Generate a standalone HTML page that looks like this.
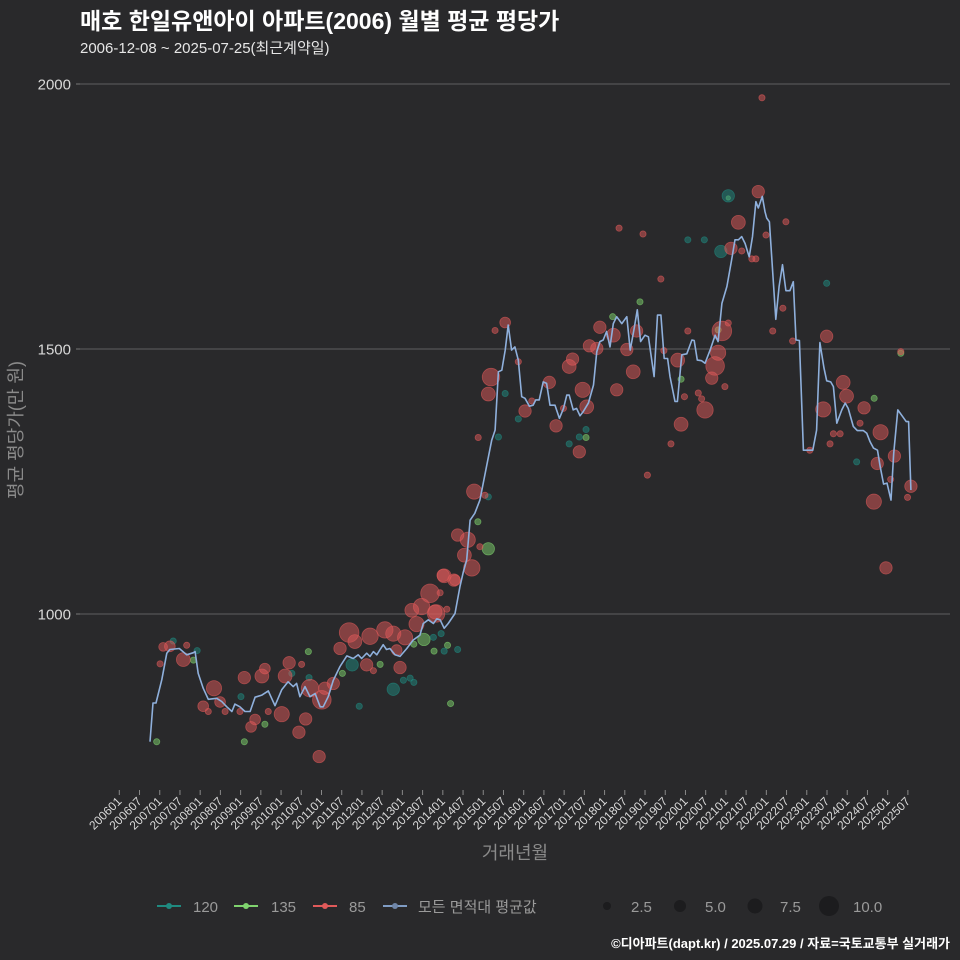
<!DOCTYPE html>
<html><head><meta charset="utf-8">
<style>
html,body{margin:0;padding:0;background:#29292b;}
svg{display:block;font-family:"Liberation Sans","Noto Sans CJK KR",sans-serif;}
</style></head>
<body>
<svg id="chart" width="960" height="960" viewBox="0 0 960 960" xmlns="http://www.w3.org/2000/svg">
<rect x="0" y="0" width="960" height="960" fill="#29292b"/>
<text x="80" y="29" font-size="23" font-weight="bold" fill="#ffffff">매호 한일유앤아이 아파트(2006) 월별 평균 평당가</text>
<text x="80" y="53" font-size="15" fill="#e6e6e6">2006-12-08 ~ 2025-07-25(최근계약일)</text>
<g id="grid"></g>
<g id="yaxis"></g>
<g id="xaxis"></g>
<g id="bubbles"></g>
<g id="line"></g>
<text transform="translate(22,430) rotate(-90)" text-anchor="middle" font-size="18" fill="#8a8a8a">평균 평당가(만 원)</text>
<text x="515" y="859" text-anchor="middle" font-size="18" fill="#8a8a8a">거래년월</text>
<g font-size="15" fill="#9a9a9a">
  <g><line x1="157" y1="906" x2="181" y2="906" stroke="#1f8a80" stroke-width="2"/><circle cx="169" cy="906" r="3" fill="#1f8a80"/><text x="193" y="912">120</text></g>
  <g><line x1="234" y1="906" x2="258" y2="906" stroke="#7fd36e" stroke-width="2"/><circle cx="246" cy="906" r="3" fill="#7fd36e"/><text x="271" y="912">135</text></g>
  <g><line x1="313" y1="906" x2="337" y2="906" stroke="#e05a5a" stroke-width="2"/><circle cx="325" cy="906" r="3" fill="#e05a5a"/><text x="349" y="912">85</text></g>
  <g><line x1="383" y1="906" x2="407" y2="906" stroke="#7f9cc4" stroke-width="2"/><circle cx="395" cy="906" r="3" fill="#6f86a8"/><text x="418" y="912">모든 면적대 평균값</text></g>
  <g><circle cx="607" cy="906" r="4" fill="#1c1c1e"/><text x="631" y="912">2.5</text></g>
  <g><circle cx="680" cy="906" r="6" fill="#1c1c1e"/><text x="705" y="912">5.0</text></g>
  <g><circle cx="755" cy="906" r="7.5" fill="#1c1c1e"/><text x="780" y="912">7.5</text></g>
  <g><circle cx="829" cy="906" r="10" fill="#1c1c1e"/><text x="853" y="912">10.0</text></g>
</g>
<text x="950" y="948" text-anchor="end" font-size="13" font-weight="bold" fill="#ffffff">©디아파트(dapt.kr) / 2025.07.29 / 자료=국토교통부 실거래가</text>
</svg>
<script>
const yTicks = [1000, 1500, 2000];
const xTickLabels = ["200601","200607","200701","200707","200801","200807","200901","200907","201001","201007","201101","201107","201201","201207","201301","201307","201401","201407","201501","201507","201601","201607","201701","201707","201801","201807","201901","201907","202001","202007","202101","202107","202201","202207","202301","202307","202401","202407","202501","202507"];
// average line: month index from 2006-01, value
const lineMonths = [9.1,10.0,10.9,12.6,14.1,15.0,17.8,20.0,22.0,22.5,23.4,24.9,26.4,28.9,30.4,31.9,33.4,34.3,35.8,37.3,38.8,40.3,42.3,44.2,46.2,48.2,50.1,51.6,52.6,53.6,55.1,56.6,58.1,59.6,60.5,62.0,63.5,65.5,67.5,69.4,70.9,71.9,73.4,74.4,75.4,76.4,77.4,78.3,79.3,80.3,81.8,83.3,85.3,87.2,89.2,90.2,91.7,93.2,94.2,95.2,96.4,97.6,99.6,101.1,102.1,103.1,104.1,105.5,107.0,110.5,111.5,112.5,113.5,114.5,115.4,116.4,117.4,118.4,119.4,120.4,121.7,122.8,123.6,124.6,125.8,126.8,127.8,129.3,130.6,131.8,132.8,133.5,134.7,135.7,136.7,137.7,139.2,140.7,141.7,142.6,143.6,144.6,145.6,146.6,147.6,149.1,150.6,151.6,152.8,153.7,154.7,156.0,157.0,158.7,159.7,160.7,161.7,162.7,163.4,164.9,165.6,166.9,168.4,169.9,170.6,171.5,172.8,173.8,175.3,176.8,177.7,178.8,180.3,181.7,182.7,183.7,184.7,185.7,186.9,187.9,188.9,189.6,190.8,191.6,192.1,192.9,194.8,195.8,196.8,197.8,199.0,200.0,200.8,201.8,203.0,205.8,206.9,207.9,209.1,209.9,211.1,211.9,212.9,214.4,215.4,216.3,217.8,219.0,220.8,221.8,222.8,223.8,225.0,225.8,226.8,227.8,229.0,229.8,231.0,232.5,233.5,234.2,234.9];
const lineValues = [759,832,832,876,926,933,935,923,927,929,888,860,839,841,835,825,816,830,825,816,816,843,847,855,827,857,872,863,869,844,863,844,850,825,825,844,875,901,921,916,923,916,926,920,929,923,933,942,933,935,923,920,935,951,960,982,989,982,991,989,973,982,1001,1052,1080,1102,1177,1190,1215,1328,1347,1457,1460,1498,1545,1498,1504,1479,1410,1407,1392,1394,1404,1404,1438,1435,1394,1394,1369,1388,1413,1413,1385,1388,1374,1382,1398,1432,1495,1514,1517,1533,1504,1548,1561,1548,1561,1498,1539,1574,1514,1526,1523,1448,1564,1564,1482,1482,1448,1401,1401,1489,1491,1517,1516,1479,1478,1473,1498,1526,1514,1586,1618,1668,1706,1706,1712,1699,1674,1712,1778,1766,1788,1759,1747,1740,1556,1618,1659,1610,1610,1627,1517,1516,1309,1309,1347,1512,1464,1440,1438,1429,1360,1385,1398,1388,1354,1346,1346,1341,1325,1313,1309,1278,1245,1247,1215,1303,1385,1372,1363,1363,1234];
// 85㎡ transactions
const redMonths = [12.1,13.0,19.0,15.0,20.0,28.1,24.9,26.4,29.9,31.4, 35.8,37.1,40.3,39.1,42.3,43.2,44.2,48.2,49.2,50.4, 54.1,55.3,53.3,59.3,56.6,60.1,61.0,63.5,65.5,68.2, 69.9,74.4,78.8,81.3,84.8,82.3,83.3,73.4,75.4,88.2, 89.7,86.8,93.7,96.1,99.6,92.2,95.2,97.2,94.0,96.4, 99.3,100.4,103.4,102.4,104.6,107.0,105.3,108.5,106.5,109.5, 110.3,111.5,114.5,118.4,120.4,122.4,127.6,129.6,131.8,133.5, 134.5,137.5,138.7,136.5,139.5,141.7,142.6,146.6,150.6,152.5, 147.6,153.5,156.7,148.3,155.4,160.7,161.6,163.7,165.7,166.7, 167.7,168.7,171.8,172.8,173.8,175.8,176.8,177.7,178.8,179.7, 180.7,181.5,184.7,183.7,187.7,188.9,189.6,191.9,190.7,197.8, 193.9,196.9,199.8,209.9,214.8,215.8,208.9,221.0,225.9,219.8, 211.9,213.9,210.9,224.9,230.0,228.9,223.9,234.9,233.9,204.9, 231.9,227.5];
const redValues = [906,938,914,939,941,860,826,816,834,816, 816,880,801,787,883,897,816,811,883,908, 905,802,777,731,860,838,860,869,935,965, 948,958,970,963,956,932,899,904,893,981, 1014,1007,1004,1073,1064,1039,1040,1009,1001,1072, 1064,1149,1140,1111,1087,1127,1231,1224,1333,1415, 1447,1535,1550,1476,1383,1402,1437,1355,1388,1467, 1481,1423,1391,1306,1506,1501,1541,1526,1499,1457, 1423,1534,1262,1728,1717,1632,1497,1321,1479,1358, 1410,1534,1417,1406,1385,1445,1468,1493,1534,1429, 1549,1690,1685,1739,1670,1670,1797,1715,1974,1740, 1534,1577,1515,1524,1437,1411,1386,1389,1343,1360, 1340,1340,1321,1284,1298,1254,1212,1241,1220,1309, 1495,1087];
const redSizes = [1,2,5,3,1,6,3,1,3,1, 1,4,3,3,5,3,1,6,5,4, 1,4,4,4,8,9,4,4,4,10, 5,7,7,6,6,3,4,4,1,6, 7,5,5,4,3,9,1,1,8,5, 4,4,6,5,7,1,6,1,1,5, 8,1,3,1,4,1,4,4,1,5, 4,6,5,4,4,4,4,5,4,5, 4,4,1,1,1,1,1,1,5,5, 1,1,1,1,7,4,9,6,10,1, 1,4,1,5,1,1,4,1,1,1, 1,1,1,4,5,5,6,4,6,1, 1,1,1,4,4,1,6,4,1,1, 1,4];
// 120㎡ transactions
const tealMonths = [16.0,23.1,36.1,56.3,51.2,69.1,81.3,71.2,84.3,86.3, 87.4,93.2,95.5,96.4,100.4,109.5,112.5,114.5,118.4,133.5, 136.5,138.5,180.7,178.5,168.7,173.6,209.9,218.8];
const tealValues = [949,931,844,880,888,904,858,826,875,879, 871,956,963,930,933,1221,1334,1416,1368,1321, 1334,1348,1789,1684,1706,1706,1624,1287];
const tealSizes = [1,1,1,1,1,4,4,1,1,1, 1,1,1,1,1,1,1,1,1,1, 1,1,4,4,1,1,1,1];
// 135㎡ transactions
const greenMonths = [22.0,11.1,43.2,37.1,56.1,66.2,77.4,90.4,87.4,93.4, 97.4,98.3,109.5,106.4,138.5,146.4,154.5,180.7,224.0,166.7, 231.9,177.7];
const greenValues = [913,759,792,759,929,888,905,952,943,930, 941,831,1123,1174,1333,1561,1589,1785,1407,1443, 1492,1536];
const greenSizes = [1,1,1,1,1,1,1,4,1,1, 1,1,4,1,1,1,1,0.5,1,1, 1,1];

const NS = "http://www.w3.org/2000/svg";
const X0 = 119.3, XM = 3.37;
function xScale(m){ return X0 + m * XM; }
function yScale(v){ return 614 - (v - 1000) * 0.53; }
function rScale(s){ return 3.1 * Math.sqrt(s); }
function mk(tag, attrs, parent){ const e = document.createElementNS(NS, tag); for (const k in attrs) e.setAttribute(k, attrs[k]); parent.appendChild(e); return e; }

const grid = document.getElementById('grid');
const yax = document.getElementById('yaxis');
yTicks.forEach(function(t){
  const y = yScale(t);
  const gl = mk('line', {x1:80, x2:950, y1:y, y2:y, stroke:'#5e5e60', 'stroke-width':1}, grid);
  
  
  const tk = mk('line', {x1:76, x2:80, y1:y, y2:y, stroke:'#777', 'stroke-width':1}, yax);
  
  
  const lb = mk('text', {x:71, y:y+5.5, 'text-anchor':'end', 'font-size':15, fill:'#d8d8d8'}, yax);
  lb.textContent = t;
  
  
});
const xax = document.getElementById('xaxis');
xTickLabels.forEach(function(lab, i){
  const x = xScale(i * 6);
  const tk = mk('line', {x1:x, x2:x, y1:790, y2:795, stroke:'#888', 'stroke-width':1}, xax);
  
  
  const lb = mk('text', {x:x+3, y:802, 'text-anchor':'end', 'font-size':12, fill:'#d8d8d8', transform:'rotate(-45 ' + (x+3) + ' 802)'}, xax);
  lb.textContent = lab;
  
  
});
const bg = document.getElementById('bubbles');
function drawSeries(months, values, sizes, color, name){
  months.forEach(function(m, i){
    const el = mk('circle', {cx:xScale(m), cy:yScale(values[i]), r:rScale(sizes[i]), fill:color, 'fill-opacity':0.5, stroke:color, 'stroke-opacity':0.6, 'stroke-width':0.8}, bg);
    
    
  });
}
drawSeries(greenMonths, greenValues, greenSizes, '#7fd36e', 'bubble-135');
drawSeries(tealMonths, tealValues, tealSizes, '#1f8a80', 'bubble-120');
drawSeries(redMonths, redValues, redSizes, '#e05a5a', 'bubble-85');
const lg = document.getElementById('line');
const pts = lineMonths.map(function(m, i){ return xScale(m).toFixed(1) + ',' + yScale(lineValues[i]).toFixed(1); }).join(' ');
const pl = mk('polyline', {points:pts, fill:'none', stroke:'#8fb0dc', 'stroke-width':1.6, 'stroke-linejoin':'round'}, lg);


</script>
</body></html>
